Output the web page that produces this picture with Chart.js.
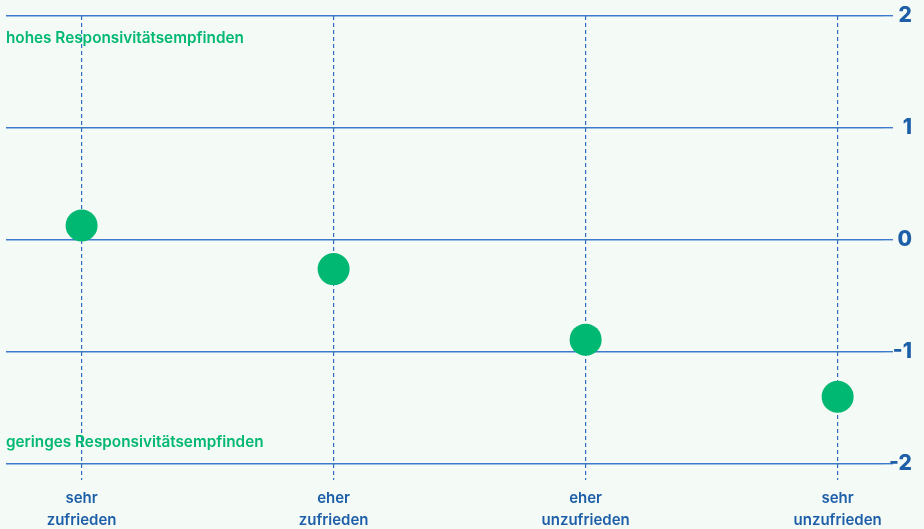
<!DOCTYPE html>
<html>
<head>
<meta charset="utf-8">
<script src="https://cdn.jsdelivr.net/npm/chart.js@4.4.1/dist/chart.umd.min.js"></script>
<style>
  html, body { margin: 0; padding: 0; background: #f4faf5; }
  #wrap { width: 924px; height: 529px; position: relative; }
</style>
</head>
<body>
<div id="wrap"><canvas id="c"></canvas></div>
<script>
const categories = [["sehr", "zufrieden"], ["eher", "zufrieden"], ["eher", "unzufrieden"], ["sehr", "unzufrieden"]];
const values = [0.13, -0.26, -0.89, -1.40];
const yTicks = [2, 1, 0, -1, -2];
const topNote = "hohes Responsivitätsempfinden";
const bottomNote = "geringes Responsivitätsempfinden";

const BLUE = "#1d5fa8";
const LINE_BLUE = "#3d7ccc";
const DASH_BLUE = "#2f6cbd";
const GREEN = "#00b872";
const FONT = "Inter, 'Open Sans', sans-serif";

const notesPlugin = {
  id: "notes",
  afterDatasetsDraw(chart) {
    const { ctx, chartArea, scales } = chart;
    ctx.save();
    ctx.fillStyle = GREEN;
    ctx.font = "600 15.3px " + FONT;
    ctx.textAlign = "left";
    ctx.textBaseline = "middle";
    ctx.fillText(topNote, chartArea.left, scales.y.getPixelForValue(1.8));
    ctx.fillText(bottomNote, chartArea.left, scales.y.getPixelForValue(-1.81));
    ctx.restore();
  }
};

new Chart(document.getElementById("c"), {
  type: "scatter",
  data: {
    datasets: [{
      data: values.map((v, i) => ({ x: i, y: v })),
      backgroundColor: GREEN,
      borderColor: GREEN,
      pointRadius: 16,
      pointHoverRadius: 16,
      borderWidth: 0
    }]
  },
  options: {
    responsive: true,
    maintainAspectRatio: false,
    animation: false,
    layout: { autoPadding: false, padding: { left: 6, right: 12, top: 16, bottom: 0 } },
    plugins: { legend: { display: false }, tooltip: { enabled: false } },
    scales: {
      x: {
        type: "linear",
        min: -0.3,
        max: 3.18,
        afterBuildTicks(scale) { scale.ticks = categories.map((c, i) => ({ value: i })); },
        afterFit(scale) { scale.height = 65; scale.paddingLeft = 0; scale.paddingRight = 0; },
        border: { display: false, dash: [4, 3] },
        grid: {
          color: DASH_BLUE,
          lineWidth: 1.2,
          tickLength: 16,
          tickBorderDash: [4, 3],
          drawOnChartArea: true
        },
        ticks: {
          color: BLUE,
          padding: 7,
          maxRotation: 0,
          font: { family: FONT, size: 15, weight: "600", lineHeight: "22px" },
          callback: (v) => categories[v] || ""
        }
      },
      y: {
        position: "right",
        min: -2,
        max: 2,
        afterBuildTicks(scale) { scale.ticks = yTicks.map(v => ({ value: v })); },
        afterFit(scale) { scale.width = 29; scale.paddingTop = 0; scale.paddingBottom = 0; },
        border: { display: false },
        grid: { color: LINE_BLUE, lineWidth: 1.4, tickLength: 10 },
        ticks: {
          color: BLUE,
          padding: 4,
          crossAlign: "far",
          font: { family: FONT, size: 21, weight: "800" }
        }
      }
    }
  },
  plugins: [notesPlugin]
});
</script>
</body>
</html>
